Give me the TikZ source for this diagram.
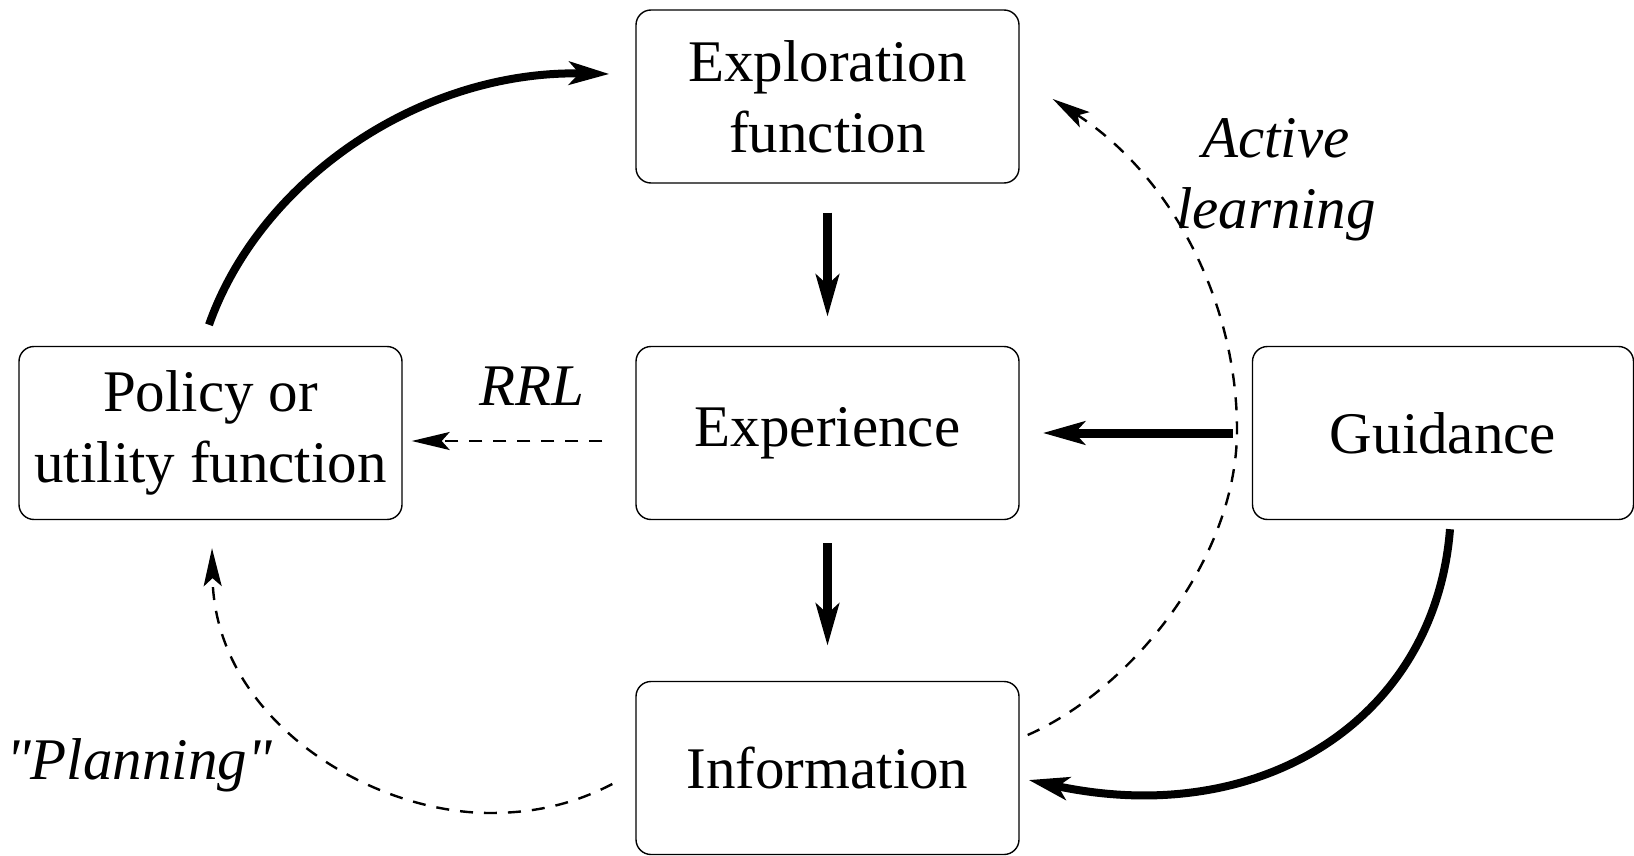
\documentclass[tikz,border=0pt]{standalone}
\usepackage{fontspec}
\setmainfont{Liberation Serif}[Ligatures=TeXOff]
\usetikzlibrary{arrows.meta,calc}
\begin{document}
\begin{tikzpicture}[x=0.5pt,y=-0.5pt,
  box/.style={draw, line width=0.7pt, rounded corners=7.5pt, minimum width=191.5pt, minimum height=86.5pt, align=center, inner sep=0pt, font=\fontsize{29.5}{35.5}\selectfont},
  lbl/.style={font=\fontsize{29.5}{35.5}\selectfont\itshape, align=center, inner sep=0pt},
  thickarrow/.style={line width=4.5pt, -{Stealth[length=21pt,width=11.5pt,inset=5pt]}},
  curvearrow/.style={line width=4pt, -{Stealth[length=20pt,width=11.5pt,inset=5pt]}},
  dasharrow/.style={line width=1.2pt, dash pattern=on 6.5pt off 5.5pt, -{Stealth[length=19pt,width=9pt,inset=4pt]}}]
\path[use as bounding box, fill=white] (0,0) rectangle (1634,856);

\node[box] (expl) at (827.5,96.5) {Exploration\\function};
\node[box] (expe) at (827.5,433) {Experience};
\node[box] (info) at (827.5,768) {Information};
\node[box] (pol) at (210.5,433) {Policy or\\utility function};
\node[box, minimum width=190.5pt] (guid) at (1443,433) {Guidance};

\draw[thickarrow, shorten <=14.5pt, shorten >=14.5pt] (expl.south) -- (expe.north);
\draw[thickarrow, shorten <=11.5pt, shorten >=17.5pt] (expe.south) -- (info.north);
\draw[thickarrow, shorten >=11.5pt] ($(guid.west)+(-19,0)$) -- (expe.east);

\draw[dasharrow] ($(expe.west)+(-33,8)$) -- ($(pol.east)+(9,8)$);

\draw[curvearrow] ($(pol.north)+(-1.5,-21)$) .. controls (260,180) and (420,70) .. ($(expl.west)+(-26,-22.5)$);
\draw[curvearrow] ($(guid.south)+(7,9)$) .. controls (1435,720) and (1260,830) .. ($(info.east)+(9,12)$);

\draw[dasharrow] ($(info.east)+(8,-33)$) .. controls (1130,690) and (1237,560) .. (1237,430) .. controls (1237,300) and (1170,175) .. ($(expl.east)+(33,2.5)$);
\draw[dasharrow] ($(info.west)+(-23,16)$) .. controls (570,806) and (530,813) .. (490,813) .. controls (370,813) and (215,720) .. ($(pol.south)+(1.5,28)$);

\node[lbl, anchor=base] (rrl) at (532,405) {RRL};
\node[lbl] (al) at (1276,180) {Active\\learning};
\node[lbl, anchor=base] (plan) at (139,779) {"Planning"};
\end{tikzpicture}
\end{document}
